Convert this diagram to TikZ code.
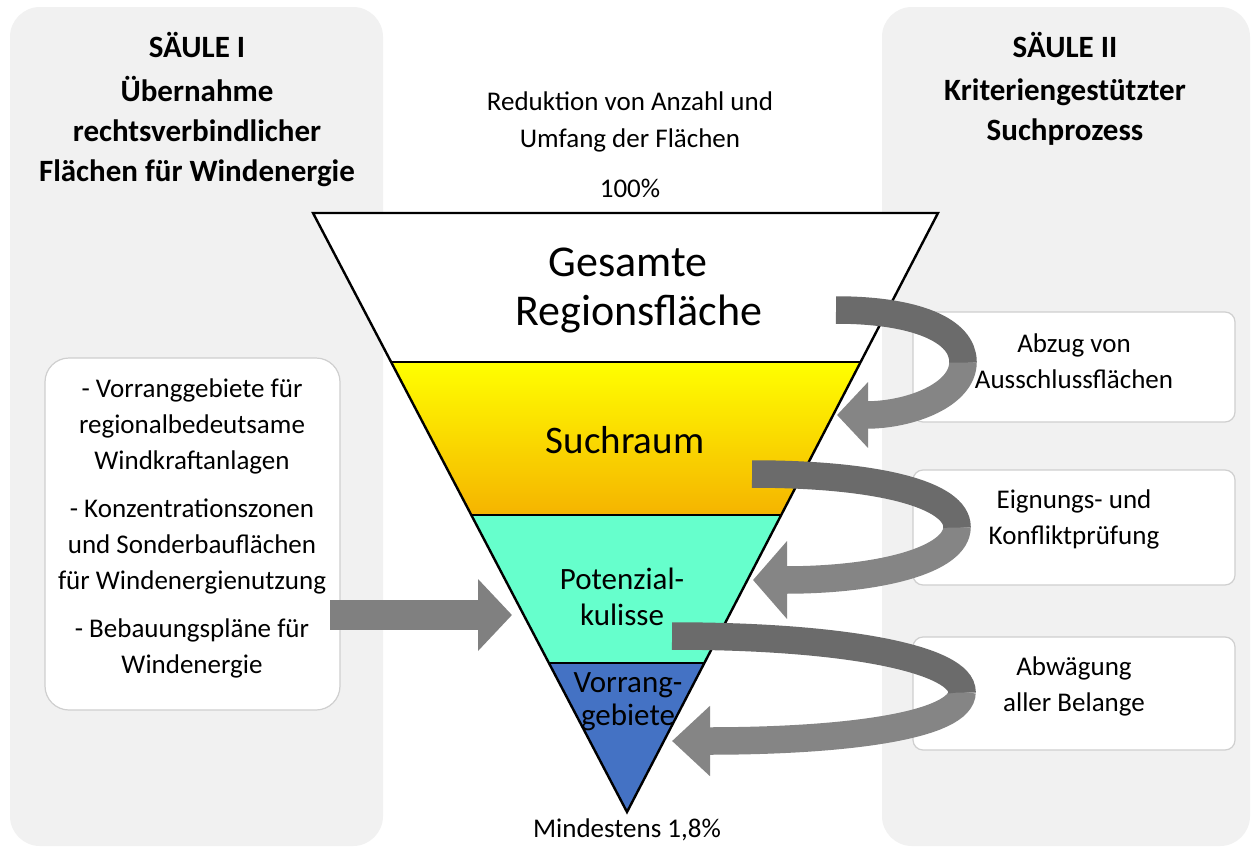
\documentclass[tikz,border=0pt]{standalone}
\usepackage{fontspec}
\setmainfont{Carlito}
\usetikzlibrary{arrows.meta,calc}
\definecolor{panelgray}{HTML}{F1F1F1}
\definecolor{boxline}{HTML}{CFCFCF}
\definecolor{sunyellow}{HTML}{FFFF00}
\definecolor{sunorange}{HTML}{F5B400}
\definecolor{aqua}{HTML}{66FFCC}
\definecolor{prioblue}{HTML}{4472C4}
\definecolor{arrdark}{HTML}{6B6B6B}
\definecolor{arrlight}{HTML}{858585}
\definecolor{arrmid}{HTML}{808080}
\begin{document}
\begin{tikzpicture}[x=1pt,y=-1pt,
  panel/.style={fill=panelgray,draw=none,rounded corners=30pt},
  whitebox/.style={fill=white,draw=boxline,line width=1.2pt,rounded corners=24pt},
  rightbox/.style={fill=white,draw=boxline,line width=1.2pt,rounded corners=10pt},
  title/.style={font=\fontsize{31}{40}\selectfont\bfseries,align=center,inner sep=0pt},
  body/.style={font=\fontsize{27}{36}\selectfont,align=center,inner sep=0pt},
  ribdark/.style={draw=arrdark,line width=27.5pt,line cap=butt},
  riblight/.style={draw=arrlight,line width=27.5pt,line cap=butt},
  funnelline/.style={draw=black,line width=2.4pt,line join=miter}
]
\useasboundingbox (0,0) rectangle (1251,849);
\fill[white] (0,0) rectangle (1251,849);

% panels
\path[panel] (10,7) rectangle (383,846);
\path[panel] (882,7) rectangle (1250,846);

% boxes
\path[whitebox] (45,358) rectangle (340,710);
\path[rightbox] (913,312) rectangle (1235,422);
\path[rightbox] (913,470) rectangle (1235,585);
\path[rightbox] (913,637) rectangle (1235,750);

% funnel
\coordinate (TL) at (313,213);
\coordinate (TR) at (938,213);
\coordinate (AP) at (627,812);
\coordinate (L1) at ($(TL)!0.2487!(AP)$);
\coordinate (R1) at ($(TR)!0.2487!(AP)$);
\coordinate (L2) at ($(TL)!0.5042!(AP)$);
\coordinate (R2) at ($(TR)!0.5042!(AP)$);
\coordinate (L3) at ($(TL)!0.7513!(AP)$);
\coordinate (R3) at ($(TR)!0.7513!(AP)$);
\fill[white] (TL) -- (TR) -- (R1) -- (L1) -- cycle;
\shade[top color=sunyellow,bottom color=sunorange] (L1) -- (R1) -- (R2) -- (L2) -- cycle;
\fill[aqua] (L2) -- (R2) -- (R3) -- (L3) -- cycle;
\fill[prioblue] (L3) -- (R3) -- (AP) -- cycle;
\draw[black,line width=1.8pt] (L1) -- (R1) (L2) -- (R2) (L3) -- (R3);
\draw[funnelline] (TL) -- (TR) -- (AP) -- cycle;

% curved arrows
\coordinate (a1s) at (836,310);
\coordinate (a1m) at (963,362);
\coordinate (a1t) at (837,415);
\draw[riblight,-{Triangle[width=64pt,length=31pt]}] (a1m) .. controls (963,395) and (910,415) .. (a1t);
\draw[ribdark] (a1s) .. controls (915,310) and (963,330) .. (a1m) -- ++(0,0.6);

\coordinate (a2s) at (752,474);
\coordinate (a2m) at (957,527);
\coordinate (a2t) at (753,580);
\draw[riblight,-{Triangle[width=76pt,length=34pt]}] (a2m) .. controls (957,560) and (880,580) .. (a2t);
\draw[ribdark] (a2s) .. controls (880,474) and (957,495) .. (a2m) -- ++(0,0.6);

\coordinate (a3s) at (672,636);
\coordinate (a3m) at (962,692);
\coordinate (a3t) at (672,741);
\draw[riblight,-{Triangle[width=68pt,length=38pt]}] (a3m) .. controls (962,725) and (850,741) .. (a3t);
\draw[ribdark] (a3s) .. controls (850,636) and (962,660) .. (a3m) -- ++(0,0.6);

% straight arrow
\coordinate (s1) at (330,615);
\coordinate (s2) at (512,615);
\draw[draw=arrmid,line width=30pt,line cap=butt,-{Triangle[width=70pt,length=34pt]}] (s1) -- (s2);

% texts
\node[title] (s1t) at (197,45) {SÄULE I};
\node[title] (s1b) at (197,132) {Übernahme\\rechtsverbindlicher\\Flächen für Windenergie};
\node[title] (s2t) at (1065,45) {SÄULE II};
\node[title] (s2b) at (1065,112) {Kriteriengestützter\\Suchprozess};

\node[body,font=\fontsize{27}{37}\selectfont] (red) at (630,122) {Reduktion von Anzahl und\\Umfang der Flächen};
\node[body] (p100) at (630,188) {100\%};

\node[body,font=\fontsize{44}{52}\selectfont] (ges1) at (628,262) {Gesamte};
\node[body,font=\fontsize{44}{52}\selectfont] (ges2) at (639,314) {Regionsfläche};
\node[body,font=\fontsize{39}{44}\selectfont] (such) at (625,440) {Suchraum};
\node[body,font=\fontsize{31}{36}\selectfont] (pot) at (622,597) {Potenzial-\\kulisse};
\node[body,font=\fontsize{31}{33}\selectfont] (vor) at (628,702) {Vorrang-\\gebiete};
\node[body] (min) at (627,830) {Mindestens 1,8\%};

\node[body] (left) at (192,528) {- Vorranggebiete für\\regionalbedeutsame\\Windkraftanlagen\\[12pt]- Konzentrationszonen\\und Sonderbauflächen\\für Windenergienutzung\\[12pt]- Bebauungspläne für\\Windenergie};

\node[body] (r1) at (1074,361) {Abzug von\\Ausschlussflächen};
\node[body] (r2) at (1074,519) {Eignungs- und\\Konfliktprüfung};
\node[body] (r3) at (1074,686) {Abwägung\\aller Belange};
\end{tikzpicture}
\end{document}
